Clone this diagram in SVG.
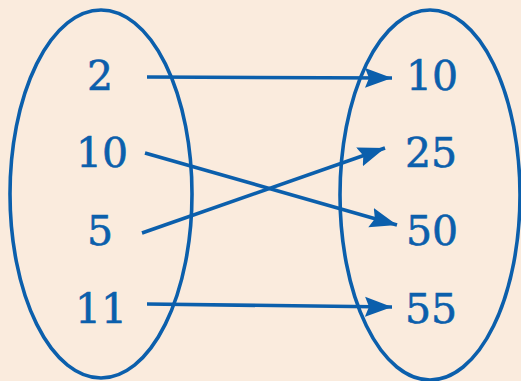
<svg xmlns="http://www.w3.org/2000/svg" width="521" height="381" viewBox="0 0 521 381">
<style>
.set{fill:none;stroke:#0b5fac;stroke-width:3.6}
.lbl{font-family:"DejaVu Serif",serif;font-size:41px;fill:#0b5fac;stroke:#0b5fac;stroke-width:0.6;text-anchor:middle}
.edge{fill:none;stroke:#0b5fac;stroke-width:3.6}
</style>
<defs>
<marker id="ah" markerUnits="userSpaceOnUse" markerWidth="30" markerHeight="22" refX="27" refY="10" orient="auto" viewBox="0 0 30 20">
<path d="M0,0 L27,10 L0,20 L4,10 Z" fill="#0b5fac"/>
</marker>
</defs>
<rect width="521" height="381" fill="#faebdd"/>
<g id="domain"><ellipse class="set" cx="101" cy="194" rx="91" ry="184"/></g>
<g id="codomain"><ellipse class="set" cx="430" cy="195" rx="90" ry="185"/></g>
<g id="n2"><text class="lbl" x="100" y="90">2</text></g>
<g id="n10a"><text class="lbl" x="102" y="167">10</text></g>
<g id="n5"><text class="lbl" x="100" y="245">5</text></g>
<g id="n11"><text class="lbl" x="101" y="323">11</text></g>
<g id="m10"><text class="lbl" x="432" y="90">10</text></g>
<g id="m25"><text class="lbl" x="431" y="167">25</text></g>
<g id="m50"><text class="lbl" x="432" y="245">50</text></g>
<g id="m55"><text class="lbl" x="431" y="323">55</text></g>
<g id="connectors">
<line class="edge" x1="147" y1="77" x2="392" y2="78" marker-end="url(#ah)"/>
<line class="edge" x1="145" y1="153" x2="397" y2="225" marker-end="url(#ah)"/>
<line class="edge" x1="142" y1="233" x2="385" y2="148" marker-end="url(#ah)"/>
<line class="edge" x1="147" y1="304" x2="392" y2="307" marker-end="url(#ah)"/>
</g>
</svg>
